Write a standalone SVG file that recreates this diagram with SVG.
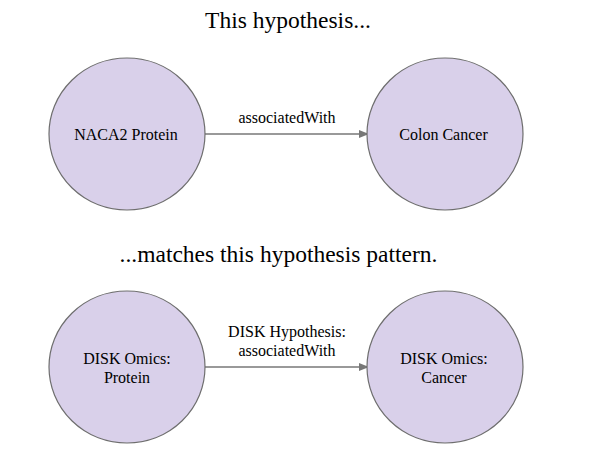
<svg xmlns="http://www.w3.org/2000/svg" width="590" height="459" viewBox="0 0 590 459">
<style>
.node{fill:#d9d0ea;stroke:#6e6e6e;stroke-width:1.2}
.t{font-family:"Liberation Serif",serif;fill:#000;text-anchor:middle}
.lbl{font-size:16px}
.title{font-size:23.5px}
.edge{stroke:#777;stroke-width:1.3;fill:none}
</style>
<defs>
<marker id="arr" markerWidth="10" markerHeight="8" refX="9" refY="4" orient="auto" markerUnits="userSpaceOnUse">
<path d="M0,0 L10,4 L0,8 Z" fill="#777"/>
</marker>
</defs>
<rect width="590" height="459" fill="#fff"/>
<text class="t title" x="288" y="28">This hypothesis...</text>
<text class="t title" x="278.5" y="262">...matches this hypothesis pattern.</text>
<g id="connectors">
<line class="edge" x1="205" y1="134" x2="368" y2="134" marker-end="url(#arr)"/>
<text class="t lbl" x="287" y="123">associatedWith</text>
<line class="edge" x1="205" y1="367" x2="368" y2="367" marker-end="url(#arr)"/>
<text class="t lbl" x="287" y="337">DISK Hypothesis:</text>
<text class="t lbl" x="287" y="356">associatedWith</text>
</g>
<g id="n1">
<ellipse class="node" cx="127" cy="134" rx="78" ry="76"/>
<text class="t lbl" x="126" y="140">NACA2 Protein</text>
</g>
<g id="n2">
<ellipse class="node" cx="445" cy="134" rx="78" ry="76"/>
<text class="t lbl" x="443.5" y="140">Colon Cancer</text>
</g>
<g id="n3">
<ellipse class="node" cx="127" cy="367" rx="78" ry="76"/>
<text class="t lbl" x="127" y="364">DISK Omics:</text>
<text class="t lbl" x="127" y="383">Protein</text>
</g>
<g id="n4">
<ellipse class="node" cx="445" cy="367" rx="78" ry="76"/>
<text class="t lbl" x="444" y="364">DISK Omics:</text>
<text class="t lbl" x="444" y="383">Cancer</text>
</g>
</svg>
